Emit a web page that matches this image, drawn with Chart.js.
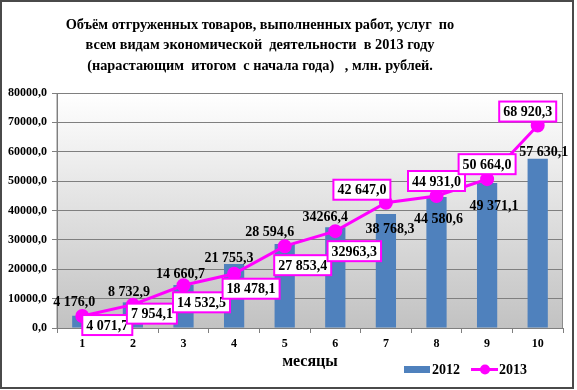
<!DOCTYPE html>
<html>
<head>
<meta charset="utf-8">
<script src="https://cdn.jsdelivr.net/npm/chart.js@4.4.1/dist/chart.umd.min.js"></script>
<style>
    body { margin: 0; background: #fff; }
    #chart { display: block; }
</style>
</head>
<body>
<canvas id="chart" width="577" height="390"></canvas>
<script>
const months = ['1', '2', '3', '4', '5', '6', '7', '8', '9', '10'];
const values2012 = [4176.0, 8732.9, 14660.7, 21755.3, 28594.6, 34266.4, 38768.3, 44580.6, 49371.1, 57630.1];
const values2013 = [4071.7, 7954.1, 14532.5, 18478.1, 27853.4, 32963.3, 42647.0, 44931.0, 50664.0, 68920.3];
const labels2012 = ['4 176,0', '8 732,9', '14 660,7', '21 755,3', '28 594,6', '34266,4', '38 768,3', '44 580,6', '49 371,1', '57 630,1'];
const labels2013 = ['4 071,7', '7 954,1', '14 532,5', '18 478,1', '27 853,4', '32963,3', '42 647,0', '44 931,0', '50 664,0', '68 920,3'];
const titleLines = [
    'Объём отгруженных товаров, выполненных работ, услуг  по',
    'всем видам экономической  деятельности  в 2013 году',
    '(нарастающим  итогом  с начала года)   , млн. рублей.'
];
const axisTitle = 'месяцы';
const seriesNames = ['2012', '2013'];

// where each value label sits relative to its bar top / point (dx, dy)
const barLabelShift = [[-8, -13], [-4, -10], [-3, -11], [-5, -6], [-15, -12], [-10, -10], [4, 15], [2, 22], [7, 23], [6, -6]];
const lineLabelShift = [[25, 9], [19, 9], [18, 17], [17, 15], [18, 19], [19, 20], [-24, -13], [0, -15], [0, -15], [-10, -14]];

const BLUE = '#4f81bd';
const PINK = '#ff00ff';
const SERIF = '"Liberation Serif", "Times New Roman", serif';

const decorPlugin = {
    id: 'decor',
    beforeDraw(chart) {
        const { ctx, chartArea: a } = chart;
        const g = ctx.createLinearGradient(0, a.top, 0, a.bottom);
        g.addColorStop(0, '#ffffff');
        g.addColorStop(1, '#c2c2c2');
        ctx.save();
        ctx.fillStyle = g;
        ctx.fillRect(a.left, a.top, a.right - a.left, a.bottom - a.top);
        ctx.strokeStyle = '#8c8c8c';
        ctx.lineWidth = 1;
        ctx.strokeRect(a.left, a.top + 0.5, a.right - a.left - 0.5, a.bottom - a.top);
        ctx.restore();
    },
    afterDatasetsDraw(chart) {
        const ctx = chart.ctx;
        ctx.save();
        ctx.font = 'bold 14px ' + SERIF;
        ctx.textAlign = 'center';
        ctx.textBaseline = 'middle';
        ctx.fillStyle = '#000';

        chart.getDatasetMeta(0).data.forEach((bar, i) => {
            ctx.fillText(labels2012[i], bar.x + barLabelShift[i][0], bar.y + barLabelShift[i][1]);
        });

        chart.getDatasetMeta(1).data.forEach((pt, i) => {
            const cx = pt.x + lineLabelShift[i][0];
            const cy = pt.y + lineLabelShift[i][1];
            const w = ctx.measureText(labels2013[i]).width + 8;
            const h = 20;
            ctx.fillStyle = '#fff';
            ctx.fillRect(cx - w / 2, cy - h / 2, w, h);
            ctx.strokeStyle = PINK;
            ctx.lineWidth = 2;
            ctx.strokeRect(cx - w / 2, cy - h / 2, w, h);
            ctx.fillStyle = '#000';
            ctx.fillText(labels2013[i], cx, cy + 1);
        });
        ctx.restore();
    },
    afterDraw(chart) {
        const ctx = chart.ctx;
        ctx.save();
        ctx.fillStyle = '#000';
        ctx.textAlign = 'center';
        ctx.textBaseline = 'middle';

        // title
        ctx.font = 'bold 14.3px ' + SERIF;
        titleLines.forEach((line, i) => ctx.fillText(line, 260, 25 + i * 20.5));

        // axis title
        ctx.font = 'bold 16px ' + SERIF;
        ctx.fillText(axisTitle, 310, 362);

        // legend
        ctx.font = 'bold 14px ' + SERIF;
        ctx.textAlign = 'left';
        ctx.fillStyle = BLUE;
        ctx.fillRect(404, 366, 26, 7);
        ctx.fillStyle = '#000';
        ctx.fillText(seriesNames[0], 432, 370);
        ctx.strokeStyle = PINK;
        ctx.lineWidth = 3;
        ctx.beginPath();
        ctx.moveTo(471, 369.5);
        ctx.lineTo(498, 369.5);
        ctx.stroke();
        ctx.fillStyle = PINK;
        ctx.beginPath();
        ctx.arc(485, 369.5, 5, 0, Math.PI * 2);
        ctx.fill();
        ctx.fillStyle = '#000';
        ctx.fillText(seriesNames[1], 499, 370);

        // frame
        ctx.strokeStyle = '#4a4a4a';
        ctx.lineWidth = 2;
        ctx.strokeRect(1, 1, 572, 387);
        ctx.restore();
    }
};

new Chart(document.getElementById('chart'), {
    data: {
        labels: months,
        datasets: [
            {
                type: 'bar',
                label: seriesNames[0],
                data: values2012,
                backgroundColor: BLUE,
                categoryPercentage: 1,
                barPercentage: 0.4,
                order: 2
            },
            {
                type: 'line',
                label: seriesNames[1],
                data: values2013,
                borderColor: PINK,
                backgroundColor: PINK,
                borderWidth: 3,
                pointRadius: 5.5,
                pointBackgroundColor: PINK,
                pointBorderColor: PINK,
                tension: 0,
                order: 1
            }
        ]
    },
    options: {
        responsive: false,
        animation: false,
        layout: { padding: { top: 93, right: 14, left: 0, bottom: 0 } },
        plugins: {
            legend: { display: false },
            title: { display: false },
            tooltip: { enabled: false }
        },
        scales: {
            x: {
                afterFit(scale) { scale.height = 62; },
                grid: { drawOnChartArea: false, color: '#7f7f7f', tickLength: 5 },
                border: { color: '#7f7f7f' },
                ticks: { color: '#000', padding: 4, font: { family: SERIF, size: 12, weight: 'bold' } }
            },
            y: {
                min: 0,
                max: 80000,
                afterFit(scale) { scale.width = 57; },
                grid: { color: '#7f7f7f', tickLength: 5 },
                border: { color: '#7f7f7f' },
                ticks: {
                    stepSize: 10000,
                    color: '#000',
                    padding: 5,
                    font: { family: SERIF, size: 12, weight: 'bold' },
                    callback: v => v.toFixed(1).replace('.', ',')
                }
            }
        }
    },
    plugins: [decorPlugin]
});
</script>
</body>
</html>
